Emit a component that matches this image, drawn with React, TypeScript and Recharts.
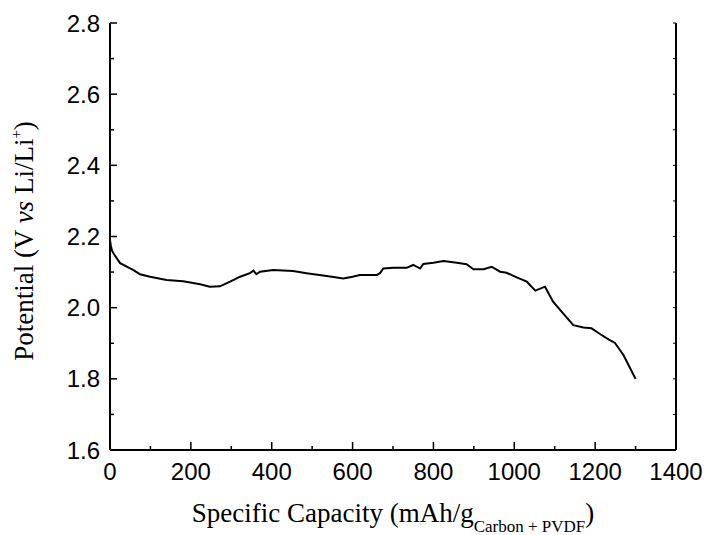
import React from 'react';
import { LineChart, Line, XAxis, YAxis, Label } from 'recharts';

const capacity = [0, 2, 5, 10, 25, 57, 74, 99, 140, 181, 223, 247, 272, 297, 322, 346, 355, 362, 371, 404, 453, 486, 536, 577, 600, 618, 660, 668, 676, 701, 734, 750, 767, 775, 800, 825, 858, 882, 899, 924, 944, 965, 981, 1006, 1031, 1052, 1076, 1096, 1117, 1146, 1171, 1191, 1212, 1233, 1249, 1270, 1286, 1300];
const potential = [2.19, 2.175, 2.16, 2.15, 2.125, 2.106, 2.094, 2.087, 2.078, 2.074, 2.066, 2.059, 2.06, 2.073, 2.087, 2.097, 2.104, 2.094, 2.101, 2.106, 2.103, 2.097, 2.089, 2.082, 2.087, 2.092, 2.092, 2.097, 2.11, 2.112, 2.112, 2.12, 2.11, 2.123, 2.126, 2.131, 2.126, 2.122, 2.108, 2.108, 2.115, 2.101, 2.098, 2.085, 2.073, 2.048, 2.059, 2.017, 1.989, 1.951, 1.944, 1.942, 1.926, 1.911, 1.901, 1.867, 1.831, 1.8];

const xTicks = [0, 100, 200, 300, 400, 500, 600, 700, 800, 900, 1000, 1100, 1200, 1300, 1400];
const xMajorTicks = [0, 200, 400, 600, 800, 1000, 1200, 1400];
const yTicks = [1.6, 1.7, 1.8, 1.9, 2.0, 2.1, 2.2, 2.3, 2.4, 2.5, 2.6, 2.7, 2.8];
const yMajorTicks = ['1.6', '1.8', '2.0', '2.2', '2.4', '2.6', '2.8'];

const data = capacity.map((c, i) => ({ c, v: potential[i] }));

const SANS = '"Liberation Sans", Arial, Helvetica, sans-serif';
const SERIF = '"Liberation Serif", "Times New Roman", Times, serif';

const BottomTick = (props: any) => {
  const { x, y, payload } = props;
  const v = payload.value;
  const major = xMajorTicks.includes(v);
  return (
    <g>
      <line x1={x} x2={x} y1={y} y2={y - (major ? 8 : 4)} stroke="#000" strokeWidth={1.5} />
      {major && (
        <text x={x} y={y + 30} textAnchor="middle" fontFamily={SANS} fontSize={24} fill="#000">
          {v}
        </text>
      )}
    </g>
  );
};

const LeftTick = (props: any) => {
  const { x, y, payload } = props;
  const label = Number(payload.value).toFixed(1);
  const major = yMajorTicks.includes(label);
  return (
    <g>
      <line x1={x} x2={x + (major ? 7 : 4)} y1={y} y2={y} stroke="#000" strokeWidth={1.5} />
      {major && (
        <text x={x - 10} y={y + 8.5} textAnchor="end" fontFamily={SANS} fontSize={24} fill="#000">
          {label}
        </text>
      )}
    </g>
  );
};

const TopTick = (props: any) => {
  const { x, y } = props;
  return <line x1={x} x2={x} y1={y} y2={y + 3} stroke="#000" strokeWidth={1} />;
};

const RightTick = (props: any) => {
  const { x, y } = props;
  return <line x1={x} x2={x - 3} y1={y} y2={y} stroke="#000" strokeWidth={1} />;
};

const XTitle = (props: any) => {
  const vb = props.viewBox || { x: 110, y: 450, width: 566, height: 60 };
  const cx = vb.x + vb.width / 2;
  return (
    <text x={cx} y={vb.y + 72} textAnchor="middle" fontFamily={SERIF} fontSize={27} fill="#000">
      <tspan>Specific Capacity (mAh/g</tspan>
      <tspan fontSize={17} dy={10}>Carbon + PVDF</tspan>
      <tspan dy={-10}>)</tspan>
    </text>
  );
};

const YTitle = (props: any) => {
  const vb = props.viewBox || { x: 50, y: 23, width: 60, height: 427 };
  const tx = vb.x - 17;
  const ty = vb.y + vb.height / 2 + 4.5;
  return (
    <text
      x={tx}
      y={ty}
      textAnchor="middle"
      transform={`rotate(-90 ${tx} ${ty})`}
      fontFamily={SERIF}
      fontSize={27}
      fill="#000"
    >
      <tspan>Potential (V </tspan>
      <tspan fontStyle="italic">vs</tspan>
      <tspan> Li/Li</tspan>
      <tspan fontSize={15} dy={-12}>+</tspan>
      <tspan dy={12}>)</tspan>
    </text>
  );
};

export default function App() {
  return (
    <div style={{ position: 'absolute', left: 0, top: 0, width: 706, height: 535, background: '#fff' }}>
      <LineChart
        width={706}
        height={535}
        data={data}
        margin={{ top: 23, right: 20, bottom: 25, left: 50 }}
      >
        <XAxis
          dataKey="c"
          type="number"
          domain={[0, 1400]}
          ticks={xTicks}
          interval={0}
          height={60}
          tickSize={0}
          tickMargin={0}
          tickLine={false}
          tick={<BottomTick />}
          axisLine={{ stroke: '#000', strokeWidth: 2 }}
          allowDataOverflow
        >
          <Label content={<XTitle />} />
        </XAxis>
        <XAxis
          xAxisId="top"
          orientation="top"
          dataKey="c"
          type="number"
          domain={[0, 1400]}
          ticks={xTicks}
          interval={0}
          height={0}
          tickSize={0}
          tickMargin={0}
          tickLine={false}
          tick={<TopTick />}
          axisLine={{ stroke: '#000', strokeWidth: 2 }}
          allowDataOverflow
        />
        <YAxis
          type="number"
          domain={[1.6, 2.8]}
          ticks={yTicks}
          interval={0}
          width={60}
          tickSize={0}
          tickMargin={0}
          tickLine={false}
          tick={<LeftTick />}
          axisLine={{ stroke: '#000', strokeWidth: 2 }}
          allowDataOverflow
        >
          <Label content={<YTitle />} />
        </YAxis>
        <YAxis
          yAxisId="right"
          orientation="right"
          type="number"
          domain={[1.6, 2.8]}
          ticks={yTicks}
          interval={0}
          width={10}
          tickSize={0}
          tickMargin={0}
          tickLine={false}
          tick={<RightTick />}
          axisLine={{ stroke: '#000', strokeWidth: 2 }}
          allowDataOverflow
        />
        <Line
          type="linear"
          dataKey="v"
          stroke="#000"
          strokeWidth={2}
          dot={false}
          isAnimationActive={false}
        />
      </LineChart>
    </div>
  );
}
